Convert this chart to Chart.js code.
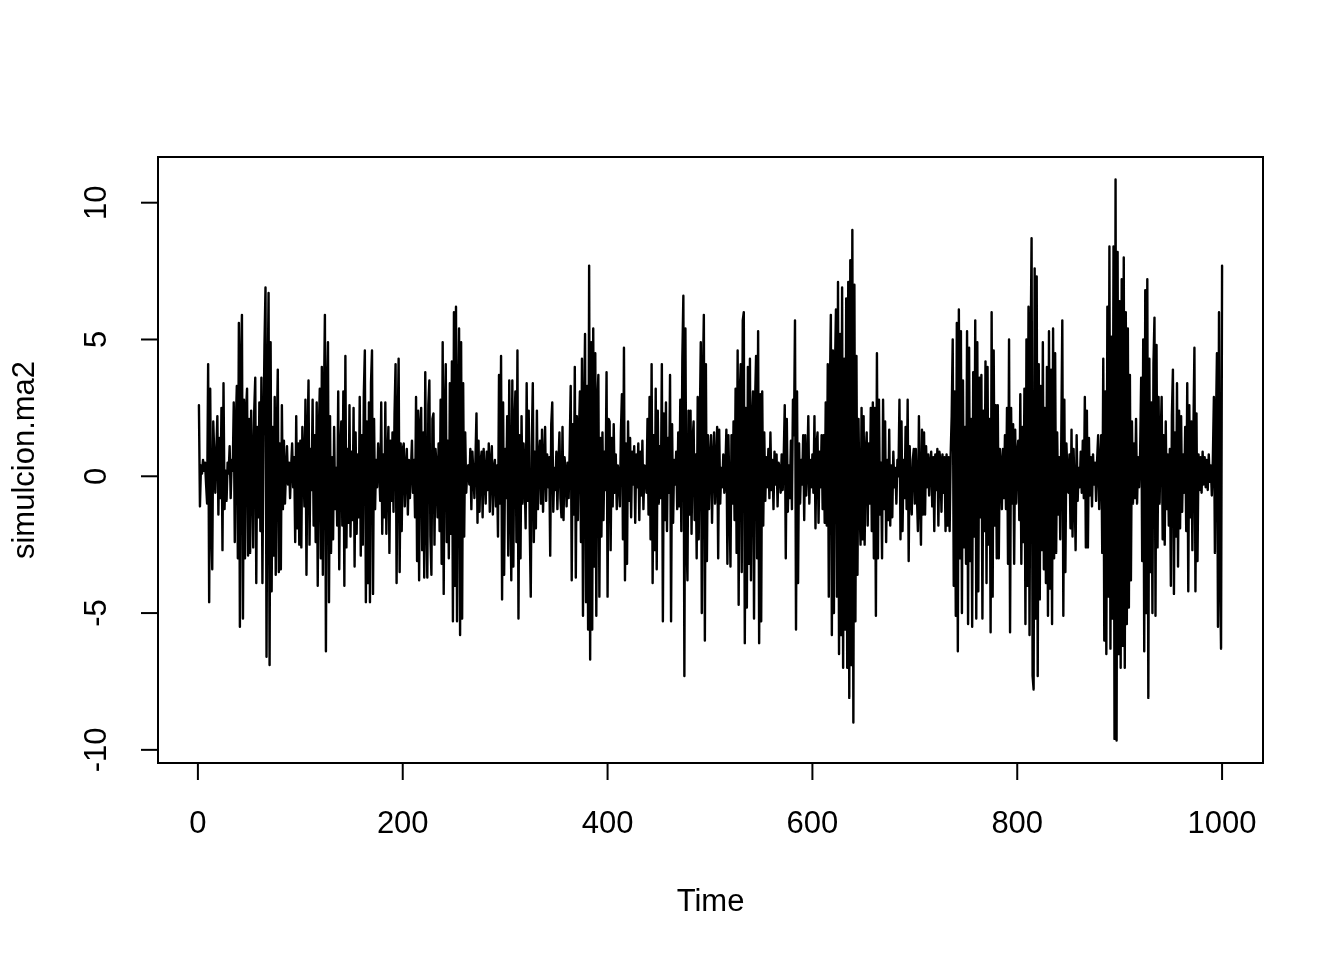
<!DOCTYPE html>
<html lang="es">
<head>
    <title>simulcion.ma2</title>
    <script src="https://cdn.jsdelivr.net/npm/chart.js@4"></script>
    <style>
        body { margin: 0; background: #fff; }
    </style>
</head>
<body>

<canvas id="myChart" width="1344" height="960"></canvas>

<script>
    // valores, t = 1..1000, en bloques de 100
    var seg1 = [
        2.6, -1.1, 0.4, 0.1, 0.6, 0.2, 0.5, -0.3, -1.0, 4.1,
        -4.6, 3.2, -1.5, -3.4, 2.0, 0.8, -0.6, 0.9, 2.2, -1.4,
        1.4, -0.8, 2.5, -2.7, 3.4, -1.2, 0.2, -0.9, 0.5, 0.1,
        1.1, -0.8, 0.6, 0.2, 2.7, -2.4, 1.8, 3.3, -3.0, 5.6,
        -5.5, 4.0, 5.9, -5.2, 2.8, -3.0, 2.4, 3.2, -2.9, 2.1,
        -2.8, 2.4, 0.5, -2.6, 2.4, 3.6, -3.9, 1.8, -1.5, 2.7,
        -2.0, 3.6, -3.9, 1.4, 4.8, 6.9, -6.6, 2.8, 6.7, -6.9,
        4.9, -4.2, 1.8, -2.9, 2.9, -3.6, 1.4, 3.9, -3.5, 1.2,
        -3.4, 2.6, -1.2, 1.3, -1.0, 0.2, 1.1, -0.3, 0.5, -0.8,
        0.3, 1.2, -0.4, 0.7, -2.4, 2.2, -1.9, 1.2, -2.5, 1.3
    ];
    var seg2 = [
        -2.6, 1.8, 0.4, -1.1, 2.8, -3.6, 1.2, 3.5, -2.5, 1.0,
        -0.5, 2.8, -1.8, 1.5, -2.4, 2.7, -4.0, 1.5, 3.2, -3.0,
        4.0, -3.6, 2.5, 5.9, -6.4, 3.0, 4.9, -4.6, 2.2, -2.8,
        0.7, -2.3, 1.8, -1.2, 0.3, -1.8, 3.1, -3.4, 0.8, 2.0,
        -1.8, 3.1, -4.0, 4.4, -2.6, 1.0, -1.7, 2.6, -2.2, 0.9,
        -1.6, 2.5, -3.3, 1.6, -2.1, 0.8, -1.5, 2.9, -2.9, 1.5,
        -2.5, 3.0, 4.6, -4.6, 2.0, -3.9, 2.7, -4.6, 3.4, 4.6,
        -4.3, 2.1, -1.2, 0.6, -0.4, 1.2, 0.3, -0.9, 2.7, -2.1,
        0.8, -1.5, 2.7, -2.1, 0.5, 1.8, -2.8, 1.3, -0.9, 1.6,
        -1.3, 2.3, 4.1, -3.9, 1.5, 4.3, -3.5, 1.2, -2.0, 1.0
    ];
    var seg3 = [
        1.2, -1.1, 0.3, 1.0, -1.4, 0.6, -0.8, 0.2, 1.3, -0.6,
        0.6, -1.5, 2.9, -3.1, 2.4, -3.8, 1.8, 2.5, -2.7, 1.6,
        -3.7, 3.8, -1.2, -3.7, 2.6, 3.5, -2.2, -3.6, 2.1, 2.3,
        -2.5, 1.0, 0.4, -1.5, 1.2, -2.0, 2.8, -3.2, 4.9, -4.3,
        2.1, 4.1, -2.4, 1.3, -3.0, 3.4, -2.1, 4.2, -5.3, 6.0,
        -4.0, 6.2, -5.3, 2.5, 5.4, -5.8, 4.9, -5.2, 3.4, -2.2,
        1.6, -0.6, 0.2, 0.4, -0.3, 1.0, -1.2, 0.9, 0.1, -0.8,
        0.6, 2.3, -1.7, 1.3, -1.3, 0.5, 0.9, -1.5, 1.0, 0.1,
        -1.0, 0.9, -0.5, 1.2, -1.3, 0.5, 1.1, -1.4, 0.3, 0.6,
        -1.1, 0.4, -2.2, 3.7, -1.0, 4.4, -4.5, 2.7, -3.6, 1.0
    ];
    var seg4 = [
        -0.8, 2.2, -2.9, 3.5, -0.5, -3.8, 3.5, -3.3, 1.8, 3.1,
        -2.4, 4.6, -5.2, 1.5, -3.0, 2.2, -1.0, 1.2, 0.0, -1.9,
        3.4, -0.9, 2.4, -1.8, -4.4, 1.1, 3.4, -2.4, 0.9, -1.9,
        2.4, -1.2, 0.6, 1.3, -1.0, 1.7, -1.3, 0.4, 1.8, -0.9,
        0.8, -0.4, 0.7, -2.9, 1.9, 2.7, -1.3, 0.3, -0.5, 0.9,
        -1.2, 0.4, 1.6, -0.8, -1.5, 1.8, -1.6, 0.7, 0.2, -1.1,
        0.5, -0.8, 1.0, 3.3, -3.8, 1.9, -1.4, 4.0, -3.7, 2.2,
        -1.6, 1.5, 3.1, -2.4, 4.3, -5.1, 2.0, 5.2, -4.6, 3.3,
        -5.6, 7.7, -6.7, 4.9, -5.6, 5.4, -3.3, 4.5, -5.1, 2.7,
        3.7, -4.4, 1.4, -2.2, 1.6, -1.6, 0.9, -0.5, 3.8, -4.4
    ];
    var seg5 = [
        2.1, 2.0, -2.7, 1.4, -1.1, 1.9, -0.6, 0.8, -1.2, 0.4,
        0.0, -1.1, 1.6, 3.0, -2.3, 4.7, -3.8, 1.2, -3.2, 2.0,
        -0.9, 1.4, -1.5, 0.9, -0.3, 1.1, -1.7, 0.8, -0.4, 1.2,
        -1.6, 0.9, -0.7, 1.3, -1.2, 0.4, 0.2, -0.6, 2.1, -1.4,
        2.9, -2.3, 4.1, -3.9, 1.5, -2.7, 3.2, -3.4, 2.4, -1.0,
        1.1, -0.8, 4.1, -5.3, 2.3, -1.6, 2.7, -2.0, 1.4, -0.6,
        3.7, -5.3, 1.9, -1.7, 0.6, -0.3, 0.9, -1.2, 1.6, -1.1,
        2.8, -2.0, 4.3, 6.6, -7.3, 5.4, -2.1, -3.8, 2.4, -1.4,
        2.4, -2.1, 1.3, 2.0, -1.6, 0.8, -3.0, 2.9, -2.3, 1.7,
        4.9, -5.0, 3.4, 5.9, -6.0, 4.1, -3.1, 1.5, -1.2, 0.6
    ];
    var seg6 = [
        1.5, -1.7, 0.6, 1.6, -1.0, 0.4, 1.8, -3.0, 1.7, -1.0,
        0.3, -0.4, 0.8, -0.6, 0.2, 1.7, -3.2, 1.5, -0.7, -3.3,
        1.5, -1.0, 2.0, -1.6, 3.2, -2.8, 4.6, -4.7, 2.9, 4.1,
        -3.5, 5.7, 6.0, -6.1, 2.5, -4.8, 4.0, -3.2, 4.3, -3.8,
        1.9, 3.1, -5.2, 2.7, 4.4, -3.0, 5.3, -6.1, 3.0, -5.3,
        3.1, -1.8, 1.6, -0.9, 0.7, -0.4, 1.0, -0.8, 1.6, -0.5,
        0.6, -1.2, 0.9, -0.3, 0.8, -1.1, 0.5, 0.3, -0.6, 0.8,
        -0.5, 0.7, 2.6, -3.0, 2.1, -1.3, 0.4, -0.8, 1.3, -1.2,
        2.8, 1.5, 5.7, -5.6, 3.1, -3.9, 1.2, -1.0, 0.6, -0.3,
        1.5, -1.6, 1.5, -0.7, 0.3, 2.2, -1.0, 0.6, -0.4, 0.8
    ];
    var seg7 = [
        -0.6, 2.2, -1.9, 1.1, 1.6, -1.7, 0.9, -0.4, 1.5, -1.2,
        1.5, -1.7, 2.7, -1.8, 4.1, -4.4, 2.9, 5.9, -5.8, 4.6,
        -5.0, 3.8, 6.1, -4.4, 7.1, -6.5, 5.2, -5.8, 6.9, -7.0,
        4.3, -5.6, 6.5, -7.0, 7.1, -8.1, 7.9, -6.9, 9.0, -9.0,
        7.0, -5.3, 4.4, -3.6, 2.1, -1.0, -2.5, 2.5, -2.3, 2.2,
        -2.5, 0.8, 1.6, -1.8, 1.2, -1.0, 2.5, -2.0, 2.7, -3.0,
        2.5, -5.1, 4.5, -3.0, 2.8, -1.4, 0.5, -3.0, 2.8, -1.2,
        2.0, -2.4, 0.6, -1.6, 1.7, -1.8, 0.4, -1.5, 0.9, -0.4,
        0.3, -1.0, 0.6, 0.0, 2.8, -2.3, 2.0, -2.0, 0.6, -0.8,
        1.8, -1.2, 2.8, -3.1, 1.1, -0.4, -1.4, 0.6, 1.0, -1.0
    ];
    var seg8 = [
        1.0, -0.6, -2.0, 2.2, -0.7, -2.5, 1.7, -1.4, 1.6, -1.4,
        1.1, -0.4, 0.8, -0.7, 0.5, 0.9, -1.1, 0.7, -2.0, 0.8,
        -0.5, 1.0, -1.8, 0.9, 0.6, -1.3, 0.8, -0.6, 0.7, -2.0,
        0.8, -1.8, 0.7, -2.0, 0.8, 2.2, 5.0, -4.0, 3.1, -5.1,
        5.6, -6.4, 6.1, -3.0, 5.3, -5.0, 3.5, -2.6, 1.8, -3.2,
        5.3, -5.4, 4.7, -3.1, 2.1, -5.5, 3.8, -2.2, 5.7, -5.2,
        4.9, -4.2, 3.6, -1.5, 3.7, -5.2, 2.4, -2.0, 4.2, -3.9,
        4.0, -2.5, 2.1, -5.7, 6.0, -4.4, 4.6, -1.8, 2.6, -3.0,
        2.6, -3.0, 1.0, 0.5, -1.2, 1.0, -0.8, 1.5, -1.2, 2.5,
        -3.2, 5.0, -5.7, 2.5, -1.0, 1.9, -3.2, 1.7, -1.0, 0.8
    ];
    var seg9 = [
        1.3, -1.6, 3.0, -3.2, 1.8, -2.4, 3.2, -5.4, 5.0, -4.0,
        6.2, -5.8, 4.3, 8.7, -7.3, -7.8, 7.6, -5.2, 7.3, -7.3,
        4.1, -4.5, 3.3, -2.7, 4.9, -3.4, 2.5, -3.9, 4.0, -5.1,
        5.3, -4.1, 3.9, -5.4, 5.4, -3.0, 4.5, -2.8, 1.6, -1.4,
        0.7, -2.3, 1.4, 5.7, -5.1, 2.8, -3.5, 1.2, 0.1, -0.6,
        0.8, -1.9, 1.7, -2.2, 1.0, -0.5, -2.7, 1.5, -0.9, 0.3,
        -0.4, 0.9, -0.6, 1.3, -0.8, 2.9, -2.6, 2.4, -2.6, 1.4,
        -0.7, 0.7, -1.1, 0.8, -0.3, 0.5, -0.9, 0.6, 1.5, -1.2,
        0.4, 1.5, -2.8, 4.3, -6.0, 3.1, -6.5, 6.2, -4.4, 8.4,
        -6.3, 5.1, -5.2, 8.4, -9.6, 10.85, -9.66, 8.2, -6.5, 6.4
    ];
    var seg10 = [
        -7.0, 7.2, -6.2, 8.0, -7.0, 6.0, -5.4, 5.4, -4.8, 3.7,
        -3.8, 2.0, -1.0, 1.2, -0.8, 2.1, -1.0, 0.7, -0.4, 0.9,
        3.6, -3.1, 5.0, -6.4, 6.8, -5.0, 7.2, -8.1, 4.3, -3.5,
        2.7, -5.0, 4.1, 5.8, -5.1, 4.8, -2.6, 2.9, -1.0, 1.4,
        2.9, -2.3, 1.5, -2.5, 2.0, -1.2, 0.8, -1.8, 1.0, -4.0,
        2.2, 3.9, -4.3, 1.6, -2.2, 3.4, -3.3, 2.4, -1.9, 2.2,
        -1.3, 0.8, -0.6, 1.8, -2.0, 3.4, -4.2, 2.6, -1.5, 2.0,
        -2.7, 1.6, 4.7, -4.2, 2.3, -3.1, 0.8, -0.5, 0.7, -0.6,
        0.9, -0.3, 0.7, -0.4, 0.6, -0.5, 0.8, -0.2, 0.4, -0.7,
        0.6, 2.9, -2.8, 1.8, 4.5, -5.5, 6.0, -3.3, -6.3, 7.7
    ];

    var xTicks = [0, 200, 400, 600, 800, 1000];
    var yTicks = [-10, -5, 0, 5, 10];
    var xTitle = "Time";
    var yTitle = "simulcion.ma2";

    var serie = seg1.concat(seg2, seg3, seg4, seg5, seg6, seg7, seg8, seg9, seg10);
    var puntos = serie.map((v, i) => ({ x: i + 1, y: v }));

    // rango como en R: 4% extra a cada lado
    var xpad = (serie.length - 1) * 0.04;
    var ymin = Math.min(...serie), ymax = Math.max(...serie);
    var ypad = (ymax - ymin) * 0.04;

    var fuente = '31px "Liberation Sans", Arial, sans-serif';

    var ejesR = {
        id: 'ejesR',
        afterDraw(chart) {
            var ctx = chart.ctx;
            var a = chart.chartArea;
            var sx = chart.scales.x, sy = chart.scales.y;
            ctx.save();
            ctx.strokeStyle = '#000';
            ctx.fillStyle = '#000';
            ctx.lineWidth = 2;
            ctx.strokeRect(a.left, a.top, a.right - a.left, a.bottom - a.top);

            ctx.font = fuente;
            ctx.textAlign = 'center';
            ctx.textBaseline = 'middle';

            xTicks.forEach(function (t) {
                var px = sx.getPixelForValue(t);
                ctx.beginPath();
                ctx.moveTo(px, a.bottom);
                ctx.lineTo(px, a.bottom + 17);
                ctx.stroke();
                ctx.fillText(String(t), px, a.bottom + 61);
            });
            ctx.fillText(xTitle, (a.left + a.right) / 2, a.bottom + 139);

            yTicks.forEach(function (t) {
                var py = sy.getPixelForValue(t);
                ctx.beginPath();
                ctx.moveTo(a.left, py);
                ctx.lineTo(a.left - 17, py);
                ctx.stroke();
                ctx.save();
                ctx.translate(a.left - 61, py);
                ctx.rotate(-Math.PI / 2);
                ctx.fillText(String(t), 0, 0);
                ctx.restore();
            });
            ctx.save();
            ctx.translate(a.left - 133, (a.top + a.bottom) / 2);
            ctx.rotate(-Math.PI / 2);
            ctx.fillText(yTitle, 0, 0);
            ctx.restore();
            ctx.restore();
        }
    };

    new Chart("myChart", {
        type: "line",
        data: {
            datasets: [{
                data: puntos,
                borderColor: "#000",
                borderWidth: 2.4,
                borderJoinStyle: "round",
                borderCapStyle: "round",
                pointRadius: 0,
                tension: 0,
                fill: false
            }]
        },
        options: {
            responsive: false,
            animation: false,
            layout: { padding: { left: 158, top: 157, right: 81, bottom: 197 } },
            plugins: { legend: { display: false }, tooltip: { enabled: false } },
            scales: {
                x: { type: "linear", display: false, min: 1 - xpad, max: serie.length + xpad },
                y: { type: "linear", display: false, min: ymin - ypad, max: ymax + ypad }
            }
        },
        plugins: [ejesR]
    });
</script>
</body>
</html>
